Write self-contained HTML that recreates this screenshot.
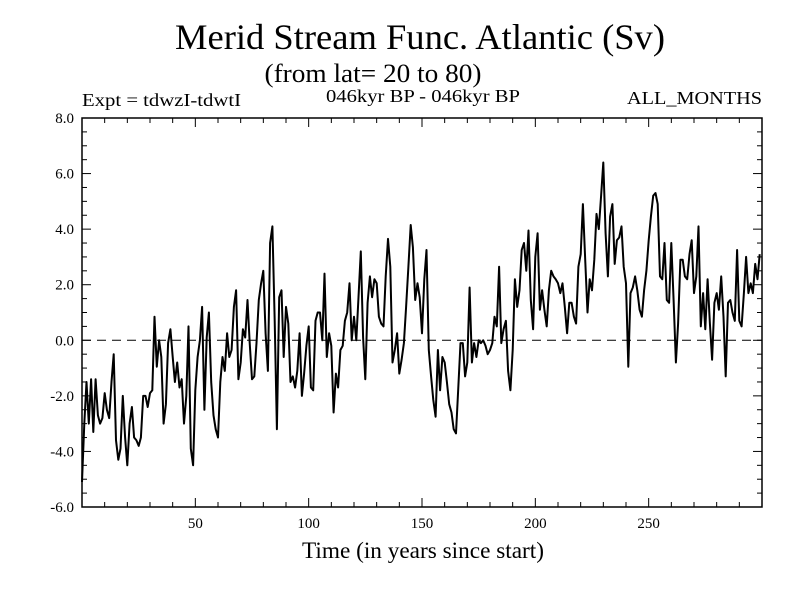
<!DOCTYPE html>
<html><head><meta charset="utf-8"><style>
body{margin:0;background:#fff}
svg text{font-family:"Liberation Serif",serif;fill:#000}
</style></head><body>
<svg id="chart" width="800" height="600" xmlns="http://www.w3.org/2000/svg">
<text x="420" y="49" font-size="36" text-anchor="middle" textLength="490" lengthAdjust="spacingAndGlyphs">Merid Stream Func. Atlantic (Sv)</text>
<text x="373" y="82" font-size="26" text-anchor="middle" textLength="217" lengthAdjust="spacingAndGlyphs">(from lat= 20 to 80)</text>
<text x="82" y="106" font-size="18" textLength="159" lengthAdjust="spacingAndGlyphs">Expt = tdwzI-tdwtI</text>
<text x="423" y="102" font-size="18" text-anchor="middle" textLength="194" lengthAdjust="spacingAndGlyphs">046kyr BP - 046kyr BP</text>
<text x="762" y="104" font-size="18" text-anchor="end" textLength="135" lengthAdjust="spacingAndGlyphs">ALL_MONTHS</text>
<text x="423" y="558" font-size="23" text-anchor="middle" textLength="242" lengthAdjust="spacingAndGlyphs">Time (in years since start)</text>
<g id="axes"></g>
<g id="series"></g>
</svg>
<script>
const vals=[-5.1,-3.0,-1.5,-3.0,-1.4,-3.3,-1.4,-2.7,-3.0,-2.8,-1.9,-2.5,-2.8,-1.5,-0.5,-3.6,-4.3,-3.9,-2.0,-3.5,-4.5,-3.0,-2.4,-3.5,-3.6,-3.8,-3.5,-2.0,-2.0,-2.4,-1.9,-1.8,0.85,-0.95,0,-0.6,-3.0,-2.3,-0.1,0.4,-0.6,-1.5,-0.8,-1.7,-1.4,-3.0,-2.0,0.5,-3.9,-4.5,
-1.8,-0.6,0,1.2,-2.5,0.1,1.0,-1.5,-2.7,-3.2,-3.5,-1.5,-0.6,-1.1,0.25,-0.6,-0.35,1.2,1.8,-1.4,-0.8,0.4,0.1,1.45,-0.1,-1.4,-1.3,-0.1,1.45,2.05,2.5,0.25,-1.1,3.5,4.1,0.7,-3.2,1.55,1.8,-0.6,1.2,0.6,-1.5,-1.3,-1.7,-1.1,0.25,-2.0,-1.2,-0.2,
0.5,-1.7,-1.8,0.7,1.0,1.0,0,2.4,-0.6,0.25,-0.2,-2.6,-1.2,-1.7,-0.35,-0.2,0.7,1.0,2.05,0,0.85,0,1.55,3.2,0.1,-1.4,1.35,2.3,1.55,2.2,2.05,0.85,0.6,0.5,2.3,3.65,2.65,-0.8,-0.35,0.25,-1.2,-0.7,-0.1,1.2,2.65,4.15,3.35,1.45,2.05,1.55,
0.25,2.2,3.25,-0.35,-1.3,-2.15,-2.75,-0.35,-1.8,-0.6,-0.8,-1.5,-2.3,-2.6,-3.2,-3.35,-1.7,-0.1,-0.1,-1.3,-0.8,1.9,-0.8,-0.1,-0.6,0,-0.1,0,-0.2,-0.5,-0.35,-0.1,0.85,0.5,2.65,-0.1,0.4,0.7,-1.1,-1.8,-0.35,2.2,1.2,1.8,3.25,3.5,2.5,3.95,1.45,0.4,
3.0,3.85,1.1,1.8,1.1,0.5,1.8,2.5,2.3,2.2,2.05,1.7,2.05,1.2,0.25,1.35,1.35,0.85,0.6,2.65,3.1,4.9,2.9,1.0,2.2,1.8,2.9,4.55,4.0,5.2,6.4,3.85,2.3,4.45,4.9,2.75,3.6,3.7,4.1,2.65,2.05,-0.95,1.7,1.9,2.3,1.8,1.1,0.85,1.8,2.5,
3.6,4.45,5.2,5.3,4.9,2.3,2.2,3.5,1.45,1.35,3.5,1.45,-0.8,0.6,2.9,2.9,2.3,2.2,3.1,3.6,1.7,2.3,4.1,0.5,1.7,0.4,2.2,0.6,-0.7,1.35,1.7,1.1,2.3,0.85,-1.3,1.35,1.45,1.0,0.7,3.25,0.7,0.5,1.7,3.0,1.7,2.05,1.7,2.75,2.2,3.1];
const yTicks=[8,6,4,2,0,-2,-4,-6];
const yTickLabels=["8.0","6.0","4.0","2.0","0.0","-2.0","-4.0","-6.0"];
const xTicks=[50,100,150,200,250];
const xTickLabels=["50","100","150","200","250"];
const L=82,R=762,T=118,B=507;
const xs=t=>L+(t/300)*(R-L);
const ys=v=>T+(8-v)/14*(B-T);
const NS='http://www.w3.org/2000/svg';
const ax=document.getElementById('axes');
function mk(tag,attrs,parent){const e=document.createElementNS(NS,tag);for(const k in attrs)e.setAttribute(k,attrs[k]);parent.appendChild(e);return e;}
const frame=mk('rect',{x:L,y:T,width:R-L,height:B-T,fill:'none',stroke:'#000','stroke-width':1.5},ax);


for(let v=-6;v<=8.001;v+=0.5){
  const major=Math.abs(v-Math.round(v/2)*2)<1e-6;const len=major?9:5;const y=ys(v);
  const t1=mk('line',{x1:L,x2:L+len,y1:y,y2:y,stroke:'#000','stroke-width':1},ax);
  
  
  const t2=mk('line',{x1:R,x2:R-len,y1:y,y2:y,stroke:'#000','stroke-width':1},ax);
  
  
}
for(let t=10;t<300;t+=10){
  const major=t%50===0;const len=major?9:5;const x=xs(t);
  const t1=mk('line',{x1:x,x2:x,y1:B,y2:B-len,stroke:'#000','stroke-width':1},ax);
  
  
  const t2=mk('line',{x1:x,x2:x,y1:T,y2:T+len,stroke:'#000','stroke-width':1},ax);
  
  
}
yTicks.forEach((v,i)=>{
  const tx=mk('text',{x:74,y:ys(v)+5,'font-size':15,'text-anchor':'end'},ax);
  tx.textContent=yTickLabels[i];
  
  
});
xTicks.forEach((v,i)=>{
  const tx=mk('text',{x:xs(v),y:528,'font-size':15,'text-anchor':'middle'},ax);
  tx.textContent=xTickLabels[i];
  
  
});
const zl=mk('line',{x1:L,x2:R,y1:ys(0),y2:ys(0),stroke:'#000','stroke-width':1,'stroke-dasharray':'9,6'},ax);


const pts=vals.map((v,i)=>xs(i).toFixed(1)+','+ys(v).toFixed(1)).join(' ');
const pl=mk('polyline',{points:pts,fill:'none',stroke:'#000','stroke-width':2,'stroke-linejoin':'round'},document.getElementById('series'));


</script>
</body></html>
